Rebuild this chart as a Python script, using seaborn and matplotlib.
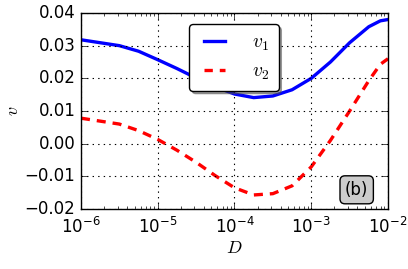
import numpy as np
import pandas as pd
import matplotlib
matplotlib.use("Agg")
import matplotlib.pyplot as plt
import matplotlib.ticker as mticker
import seaborn as sns

# --- data (log10 D) ---
log_d = [-6.0, -5.75, -5.5, -5.25, -5.0, -4.75, -4.5, -4.25, -4.0, -3.75,
         -3.5, -3.25, -3.0, -2.75, -2.5, -2.25, -2.1, -2.0]
v1 = [0.0318, 0.0309, 0.0300, 0.0283, 0.0257, 0.0230, 0.0201, 0.0174, 0.0152,
      0.0141, 0.0146, 0.0165, 0.0200, 0.0250, 0.0309, 0.0358, 0.0376, 0.0380]
v2 = [0.0078, 0.0069, 0.0060, 0.0040, 0.0013, -0.0020, -0.0057, -0.0098,
      -0.0135, -0.0157, -0.0153, -0.0129, -0.0071, 0.0010, 0.0100, 0.0193,
      0.0243, 0.0260]
series_names = [r"$v_1$", r"$v_2$"]
yticks = [-0.02, -0.01, 0.0, 0.01, 0.02, 0.03, 0.04]

plt.style.use("classic")
plt.rcParams["font.family"] = ["DejaVu Sans"]
plt.rcParams["mathtext.fontset"] = "cm"
plt.rcParams["lines.scale_dashes"] = False

D = 10.0 ** np.array(log_d)
df = pd.concat([
    pd.DataFrame({"D": D, "v": v1, "s": series_names[0]}),
    pd.DataFrame({"D": D, "v": v2, "s": series_names[1]}),
])

fig = plt.figure(figsize=(4.08, 2.69), dpi=100)
ax = fig.add_axes([0.1985, 0.223, 0.7525, 0.7287])

sns.lineplot(data=df, x="D", y="v", hue="s", style="s",
             palette=["#0000ff", "#ff0000"], dashes=[(None, None), (6, 5)],
             linewidth=2.4, ax=ax, legend=True)
ax.lines[1].set_dashes([6.5, 5])

ax.set_xscale("log")
ax.set_xlim(1e-6, 1e-2)
ax.set_ylim(-0.02, 0.04)
ax.set_yticks(yticks)
ax.yaxis.set_major_formatter(mticker.FuncFormatter(
    lambda y, p: ("%.2f" % y).replace("-", "\u2212")))
ax.xaxis.set_major_locator(mticker.LogLocator(base=10))
ax.xaxis.set_minor_locator(mticker.LogLocator(base=10, subs=np.arange(2, 10)))
ax.xaxis.set_minor_formatter(mticker.NullFormatter())
ax.xaxis.set_major_formatter(mticker.FuncFormatter(
    lambda x, p: r"$\mathregular{10^{%d}}$" % round(np.log10(x))))
ax.tick_params(which="both", direction="in", top=True, right=True,
               labelsize=12, color="black")
ax.tick_params(which="major", length=4)
ax.tick_params(which="minor", length=2)
ax.tick_params(axis="x", pad=6)
for sp in ax.spines.values():
    sp.set_color("black")
    sp.set_linewidth(1)
ax.grid(True, which="major", color="black", linestyle=":", linewidth=0.8)

ax.set_xlabel(r"$D$", fontsize=13, labelpad=1)
ax.set_ylabel(r"$v$", fontsize=13, labelpad=2)

handles, labels = ax.get_legend_handles_labels()
leg = ax.legend(handles, labels, loc="upper center", bbox_to_anchor=(0.498, 0.944),
                fancybox=True, shadow=True, fontsize=14, handlelength=1.7,
                borderpad=0.45, labelspacing=0.45, handletextpad=1.1,
                borderaxespad=0)
leg.get_frame().set_edgecolor("black")
leg.get_frame().set_linewidth(1)

ax.text(0.898, 0.098, "(b)", transform=ax.transAxes, fontsize=12,
        ha="center", va="center",
        bbox=dict(boxstyle="round,pad=0.3", facecolor="#cccccc", edgecolor="black"))

fig.savefig("out.png", dpi=100)
